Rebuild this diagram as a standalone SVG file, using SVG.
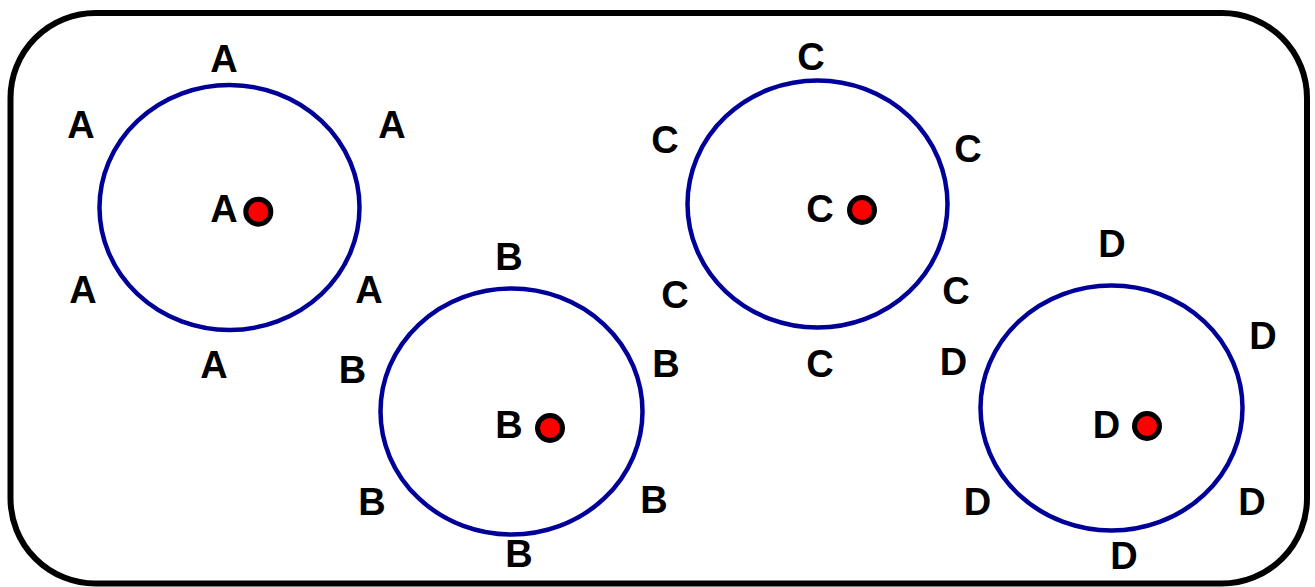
<svg xmlns="http://www.w3.org/2000/svg" width="1315" height="587" viewBox="0 0 1315 587">
<style>
.frame{fill:#fff;stroke:#000;stroke-width:6}
.ring{fill:none;stroke:#000099;stroke-width:4.5}
.dot{fill:#ff0000;stroke:#000;stroke-width:5}
text{font-family:"Liberation Sans",Arial,sans-serif;font-weight:bold;font-size:38px;fill:#000;text-anchor:middle}
</style>
<rect width="1315" height="587" fill="#fff"/>
<rect id="frame" class="frame" x="10.5" y="13" width="1296.5" height="570.5" rx="85" ry="85"/>
<g id="nodeA">
<ellipse class="ring" cx="229.5" cy="207.5" rx="130" ry="122.5"/>
<circle class="dot" cx="258.3" cy="211.7" r="12.5"/>
<text x="224" y="71.5">A</text>
<text x="81" y="137.5">A</text>
<text x="392" y="137.5">A</text>
<text x="224" y="221.5">A</text>
<text x="83" y="302.5">A</text>
<text x="369" y="302.5">A</text>
<text x="214" y="377.5">A</text>
</g>
<g id="nodeB">
<ellipse class="ring" cx="511.5" cy="411.5" rx="131" ry="123"/>
<circle class="dot" cx="550" cy="428" r="12.5"/>
<text x="509" y="270">B</text>
<text x="352.5" y="383">B</text>
<text x="666" y="377">B</text>
<text x="509" y="438">B</text>
<text x="372" y="515">B</text>
<text x="654" y="513">B</text>
<text x="519" y="567">B</text>
</g>
<g id="nodeC">
<ellipse class="ring" cx="817.5" cy="204" rx="130" ry="123.5"/>
<circle class="dot" cx="862" cy="210" r="12.5"/>
<text x="811" y="70">C</text>
<text x="665" y="153">C</text>
<text x="968" y="162">C</text>
<text x="820" y="222">C</text>
<text x="675" y="308">C</text>
<text x="956" y="304">C</text>
<text x="820" y="377">C</text>
</g>
<g id="nodeD">
<ellipse class="ring" cx="1111.5" cy="408" rx="131" ry="122.5"/>
<circle class="dot" cx="1147" cy="426" r="12.5"/>
<text x="1112" y="257">D</text>
<text x="953.5" y="375">D</text>
<text x="1263" y="349">D</text>
<text x="1106.5" y="438">D</text>
<text x="977.5" y="515">D</text>
<text x="1252" y="515">D</text>
<text x="1124" y="569">D</text>
</g>
<g id="connectors"></g>
</svg>
